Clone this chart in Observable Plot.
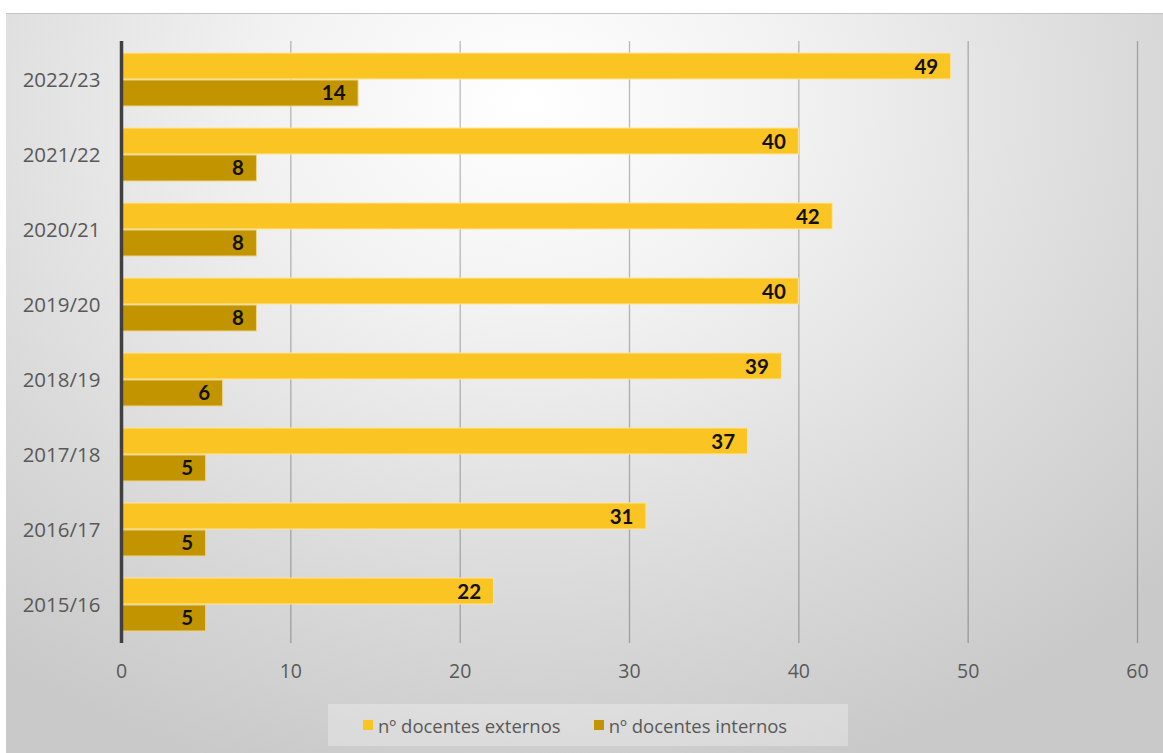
<!DOCTYPE html>
<html>
<head>
<meta charset="utf-8">
<script src="https://cdn.jsdelivr.net/npm/d3@7"></script>
<script src="https://cdn.jsdelivr.net/npm/@observablehq/plot@0.6"></script>
<style>
  html, body { margin: 0; padding: 0; background: #fff; }
  #frame {
    position: absolute; left: 6px; top: 13px; width: 1157px; height: 740px;
    border-top: 1px solid #c4c4c4; box-sizing: border-box;
    background: radial-gradient(ellipse 75% 95% at 45% 12%, #ffffff 0%, #f2f2f2 30%, #dadada 70%, #c9c9c9 100%);
    overflow: hidden;
  }
  #chart { position: absolute; left: 0; top: -1px; }
  #legend {
    position: absolute; left: 322px; top: 690px; width: 520px; height: 42px;
    box-sizing: border-box; padding-left: 35px;
    background: rgba(255,255,255,0.28);
    display: flex; align-items: center; justify-content: flex-start; gap: 33px;
    font-family: "Open Sans", sans-serif; font-size: 18.5px; color: #595959;
  }
  .item { display: flex; align-items: center; gap: 5px; }
  .sw { width: 10px; height: 10px; display: inline-block; }
</style>
</head>
<body>
<div id="frame">
  <div id="chart"></div>
  <div id="legend"></div>
</div>
<script>
const years = ["2015/16","2016/17","2017/18","2018/19","2019/20","2020/21","2021/22","2022/23"];
const externos = [22, 31, 37, 39, 40, 42, 40, 49];
const internos = [5, 5, 5, 6, 8, 8, 8, 14];
const seriesNames = ["nº docentes externos", "nº docentes internos"];
const seriesColors = ["#FAC423", "#C29400"];
const xTicks = [0, 10, 20, 30, 40, 50, 60];

const ext = years.map((y, i) => ({year: y, value: externos[i]}));
const int = years.map((y, i) => ({year: y, value: internos[i]}));

const chart = Plot.plot({
  width: 1157,
  height: 690,
  marginLeft: 115,
  marginRight: 26,
  marginTop: 28,
  marginBottom: 60,
  style: {background: "transparent", fontFamily: "Open Sans, sans-serif", fontSize: "19px"},
  x: {domain: [0, 60], ticks: xTicks, label: null},
  y: {domain: years.slice().reverse(), paddingInner: 0.296, paddingOuter: 0.148, label: null},
  marks: [
    Plot.gridX(xTicks, {stroke: "#000", strokeOpacity: 0.26, strokeWidth: 1.3}),
    Plot.axisX({ticks: xTicks, tickSize: 0, tickPadding: 21, fontSize: 19.5, fill: "#595959", label: null}),
    Plot.axisY({tickSize: 0, tickPadding: 21, fontSize: 20.5, fill: "#595959", label: null}),
    Plot.barX(ext, {x: "value", y: "year", fill: seriesColors[0], insetBottom: 27, stroke: "#ffe49a", strokeWidth: 1}),
    Plot.barX(int, {x: "value", y: "year", fill: seriesColors[1], insetTop: 27, stroke: "#ecd48a", strokeWidth: 1}),
    Plot.text(ext, {x: "value", y: "year", text: d => String(d.value), dy: -13, dx: -13, textAnchor: "end",
      fontWeight: "bold", fontSize: 20.5, fill: "#111", fontFamily: "Lato, sans-serif"}),
    Plot.text(int, {x: "value", y: "year", text: d => String(d.value), dy: 13, dx: -13, textAnchor: "end",
      fontWeight: "bold", fontSize: 20.5, fill: "#111", fontFamily: "Lato, sans-serif"}),
    Plot.ruleX([0], {stroke: "#404040", strokeWidth: 3.5})
  ]
});
document.getElementById("chart").appendChild(chart);

const legend = document.getElementById("legend");
seriesNames.forEach((n, i) => {
  const it = document.createElement("div");
  it.className = "item";
  it.innerHTML = `<span class="sw" style="background:${seriesColors[i]}"></span><span>${n}</span>`;
  legend.appendChild(it);
});
</script>
</body>
</html>
